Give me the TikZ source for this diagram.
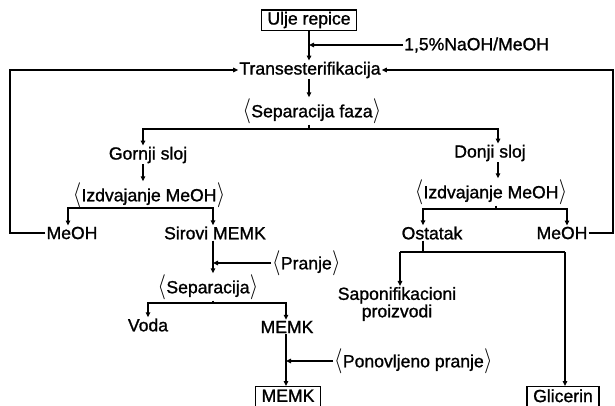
\documentclass[tikz,border=0pt]{standalone}
\usepackage{fontspec}
\setmainfont[FakeBold=1.2]{Liberation Sans}
\usetikzlibrary{arrows.meta,calc}
\newcommand\myL{\scalebox{1.25}[1.45]{$\langle$}\hspace{0.3pt}}
\newcommand\myR{\hspace{0.3pt}\scalebox{1.25}[1.45]{$\rangle$}}
\begin{document}
\begin{tikzpicture}[x=1pt,y=-1pt,
  every node/.style={font=\fontsize{17.6}{19}\selectfont, inner sep=1pt},
  box/.style={draw, line width=1.4pt, inner xsep=6pt, inner ysep=2pt},
  ln/.style={line width=1.3pt},
  arr/.style={ln, -{Triangle[length=5pt,width=4.5pt]}}]
\useasboundingbox (0,0) rectangle (615,405);
% nodes
\node[box] (ulje) at (309,20) {Ulje repice};
\node[anchor=west] (naoh) at (403,45) {1,5\%NaOH/MeOH};
\node (trans) at (310,70) {Transesterifikacija};
\node (sepf) at (312,111) {\myL Separacija faza\myR};
\node (gornji) at (148,155) {Gornji sloj};
\node (izdA) at (149,195) {\myL Izdvajanje MeOH\myR};
\node (meohA) at (72,233) {MeOH};
\node (sirovi) at (215,233) {Sirovi MEMK};
\node[anchor=west] (pranje) at (271,263) {\myL Pranje\myR};
\node (sepB) at (208,287) {\myL Separacija\myR};
\node (voda) at (148,325) {Voda};
\node (memk) at (287,327) {MEMK};
\node[anchor=west] (ponov) at (333,361) {\myL Ponovljeno pranje\myR};
\node[box, anchor=north, minimum height=28pt, text depth=10pt] (memkbox) at (288,386) {MEMK};
\node (donji) at (490,153) {Donji sloj};
\node (izdB) at (491,192) {\myL Izdvajanje MeOH\myR};
\node (ostatak) at (432,233) {Ostatak};
\node (meohB) at (562,233) {MeOH};
\node[align=center, font=\fontsize{17.6}{16}\selectfont] (sapon) at (397,304) {Saponifikacioni\\proizvodi};
\node[box, anchor=north, minimum height=28pt, text depth=10pt] (glic) at (563,386) {Glicerin};
% junction coordinates
\coordinate (jsep) at (309,129);
\coordinate (jgor) at (143,129);
\coordinate (jdon) at (498,129);
\coordinate (jizdA) at (142,208);
\coordinate (jmeA) at (68,208);
\coordinate (jsir) at (213,208);
\coordinate (jizdB) at (496,209);
\coordinate (jost) at (423,209);
\coordinate (jmeB) at (567,209);
\coordinate (jostB) at (423,252);
\coordinate (jsap) at (400,252);
\coordinate (jgli) at (565,252);
\coordinate (jsepB) at (213,303);
\coordinate (jvoda) at (148,303);
\coordinate (jmemk) at (286,303);
\coordinate (lft) at (10,233);
\coordinate (rgt) at (613,233);
% connectors
\draw[arr] (ulje.south) -- (ulje.south |- trans.north);
\draw[arr] (naoh.west) -- (naoh.west -| ulje.south);
\draw[arr] (trans.south -| ulje.south) -- (sepf.north -| ulje.south);
\draw[ln] (sepf.south -| jsep) -- (jsep);
\draw[arr] (jsep) -- (jgor) -- (jgor |- gornji.north);
\draw[arr] (jsep) -- (jdon) -- (jdon |- donji.north);
\draw[arr] (gornji.south -| jgor) -- (izdA.north -| jgor);
\draw[ln] (izdA.south -| jizdA) -- (jizdA);
\draw[arr] (jizdA) -- (jmeA) -- (jmeA |- meohA.north);
\draw[arr] (jizdA) -- (jsir) -- (jsir |- sirovi.north);
\draw[arr] (meohA.west) -- (lft) |- (trans.west);
\draw[arr] (meohB.east) -- (rgt) |- (trans.east);
\draw[arr] (sirovi.south -| jsir) -- (sepB.north -| jsir);
\draw[arr] (pranje.west) -- (pranje.west -| jsir);
\draw[ln] (sepB.south -| jsepB) -- (jsepB);
\draw[arr] (jsepB) -- (jvoda) -- (voda.north -| jvoda);
\draw[arr] (jsepB) -- (jmemk) -- (memk.north -| jmemk);
\draw[arr] (memk.south -| jmemk) -- (memkbox.north -| jmemk);
\draw[arr] (ponov.west) -- (ponov.west -| jmemk);
\draw[arr] (donji.south -| jdon) -- (izdB.north -| jdon);
\draw[ln] (izdB.south -| jizdB) -- (jizdB);
\draw[arr] (jizdB) -- (jost) -- (ostatak.north -| jost);
\draw[arr] (jizdB) -- (jmeB) -- (meohB.north -| jmeB);
\draw[ln] (ostatak.south -| jostB) -- (jostB);
\draw[arr] (jsap) -- (sapon.north -| jsap);
\draw[ln] (jsap) -- (jgli);
\draw[arr] (jgli) -- (glic.north -| jgli);
\end{tikzpicture}
\end{document}
